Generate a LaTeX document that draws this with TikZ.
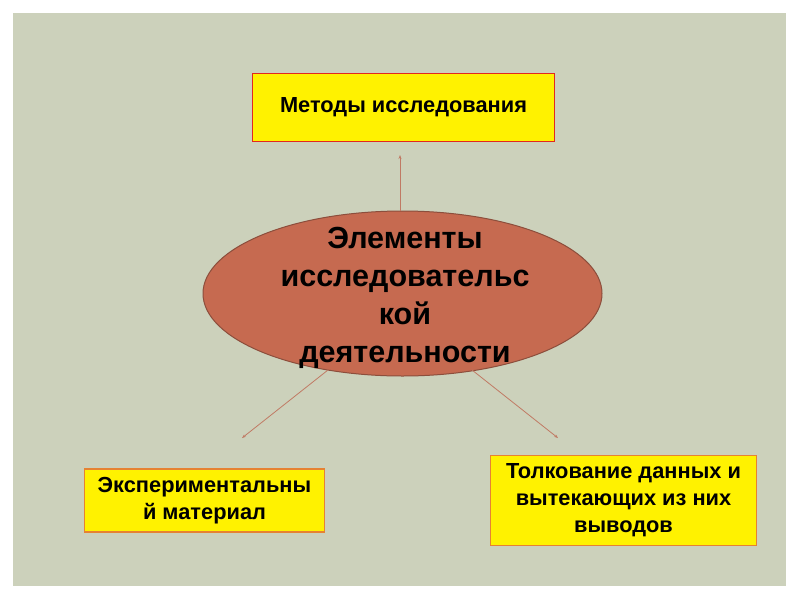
\documentclass[tikz,border=0pt]{standalone}
\usepackage{fontspec}
\setmainfont{Liberation Sans}
\usetikzlibrary{shapes.geometric,arrows.meta}
\definecolor{bgc}{RGB}{204,209,187}
\definecolor{ellfill}{RGB}{198,106,80}
\definecolor{elldraw}{RGB}{140,78,60}
\definecolor{arrc}{RGB}{192,122,100}
\definecolor{redb}{RGB}{226,40,30}
\definecolor{orangeb}{RGB}{230,130,50}
\tikzset{
  boxtext/.style={font=\bfseries\fontsize{21.8}{27}\selectfont, align=center},
  topbox/.style={draw=redb, line width=1.5pt, fill=yellow, inner sep=0pt},
  lowbox/.style={draw=orangeb, line width=1.2pt, fill=yellow, inner sep=0pt},
  conn/.style={draw=arrc, line width=0.8pt, -{Stealth[length=4pt,width=3pt]}},
}
\begin{document}
\begin{tikzpicture}[x=1pt,y=-1pt]
\useasboundingbox (0,0) rectangle (800,600);
\fill[white] (0,0) rectangle (800,600);
\fill[bgc] (13,13) rectangle (786,586);
% boxes
\node[topbox, minimum width=302pt, minimum height=68pt] (top) at (403.5,107.5) {};
\node[boxtext] (toptext) at (top.center) {Методы исследования};
\node[lowbox, minimum width=240pt, minimum height=63pt] (left) at (204.5,500.5) {};
\node[boxtext] (lefttext) at (left.center) {Экспериментальны\\й материал};
\node[lowbox, minimum width=266pt, minimum height=90pt] (right) at (623.5,500.5) {};
\node[boxtext] (righttext) at (right.center) {Толкование данных и\\вытекающих из них\\выводов};
% ellipse
\node[ellipse, minimum width=399pt, minimum height=165pt, inner sep=0pt] (ell) at (402.5,293.5) {};
\draw[draw=elldraw, line width=1pt, fill=ellfill] (ell.center) ellipse [x radius=199.5pt, y radius=82.5pt];
\node[font=\bfseries\fontsize{30.5}{38}\selectfont, align=center] (elltext) at (405,297.5) {Элементы\\исследовательс\\кой\\деятельности};
% connector end points
\coordinate (s1) at (400,211);
\coordinate (e1) at (400,155);
\coordinate (s2) at (328,370);
\coordinate (e2) at (242,438);
\coordinate (s3) at (472,370);
\coordinate (e3) at (558,438);
\draw[conn] (s1) -- (e1);
\draw[conn] (s2) -- (e2);
\draw[conn] (s3) -- (e3);
\end{tikzpicture}
\end{document}
